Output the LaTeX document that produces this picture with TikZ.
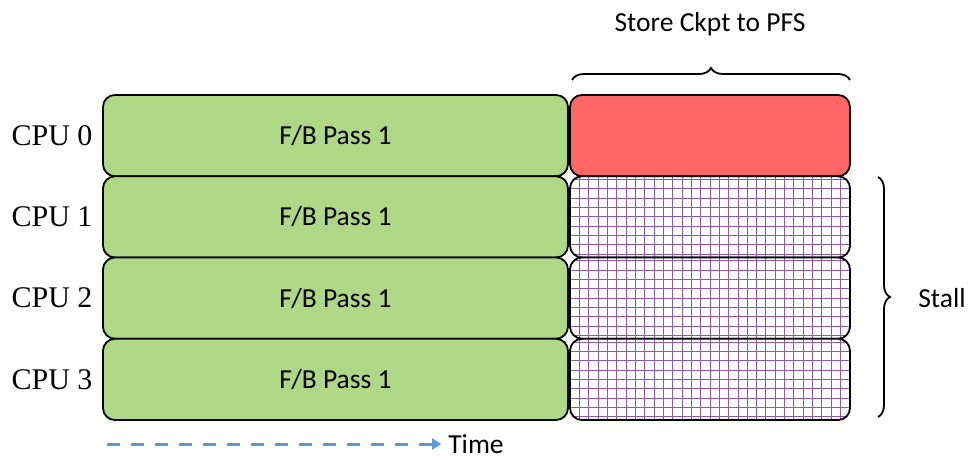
\documentclass[tikz,border=0pt]{standalone}
\usepackage{fontspec}
\setmainfont{Carlito}
\newfontfamily\cpufont{Liberation Serif}
\usetikzlibrary{arrows.meta,decorations.pathreplacing}
\definecolor{passgreen}{HTML}{AED886}
\definecolor{ckptred}{HTML}{FF6666}
\definecolor{gridpurple}{HTML}{7030A0}
\definecolor{timeblue}{HTML}{5B9BD5}
\tikzset{
  slot/.style={draw=black,line width=1.8pt,rounded corners=12pt,inner sep=0pt,outer sep=0pt,
    minimum height=81.25pt,font=\fontsize{27.5}{32}\selectfont},
  passbox/.style={slot,fill=passgreen,minimum width=465pt},
  ckptbox/.style={slot,fill=ckptred,minimum width=280pt},
  stallbox/.style={slot,fill=white,minimum width=280pt,
    path picture={\draw[gridpurple!80,line width=1pt,step=9.33pt]
      (path picture bounding box.south west) grid (path picture bounding box.north east);}},
  cpulabel/.style={font=\cpufont\fontsize{30}{34}\selectfont},
  bracelabel/.style={font=\fontsize{27.5}{32}\selectfont}
}
\begin{document}
\begin{tikzpicture}[x=1pt,y=-1pt]
\useasboundingbox[fill=white] (0,0) rectangle (968,460);
% F/B passes
\node[passbox] (pass0) at (335.5,135.6) {F/B Pass 1};
\node[passbox] (pass1) at (335.5,216.9) {F/B Pass 1};
\node[passbox] (pass2) at (335.5,298.1) {F/B Pass 1};
\node[passbox] (pass3) at (335.5,379.4) {F/B Pass 1};
% checkpoint and stalls
\node[ckptbox] (ckpt) at (710,135.6) {};
\node[stallbox] (stall1) at (710,216.9) {};
\node[stallbox] (stall2) at (710,298.1) {};
\node[stallbox] (stall3) at (710,379.4) {};
% cpu labels
\node[cpulabel] (cpu0) at (52,135.6) {CPU 0};
\node[cpulabel] (cpu1) at (52,216.9) {CPU 1};
\node[cpulabel] (cpu2) at (52,298.1) {CPU 2};
\node[cpulabel] (cpu3) at (52,379.4) {CPU 3};
% braces
\coordinate (topL) at (572,80);
\coordinate (topR) at (850,80);
\draw[line width=1.8pt,decorate,decoration={brace,amplitude=12pt}] (topL) -- (topR);
\node[bracelabel] (store) at (710,24) {Store Ckpt to PFS};
\coordinate (sideT) at (878,177);
\coordinate (sideB) at (878,417);
\draw[line width=1.8pt,decorate,decoration={brace,amplitude=12pt}] (sideT) -- (sideB);
\node[bracelabel] (stall) at (942,298) {Stall};
% time axis
\node[bracelabel,inner sep=1pt] (time) at (476,444) {Time};
\coordinate (timeStart) at (107,444);
\draw[timeblue,line width=3pt,dash pattern=on 13pt off 11pt,-{Triangle[length=9pt,width=11pt]}] (timeStart) -- ([xshift=-6pt]time.west);
\end{tikzpicture}
\end{document}
